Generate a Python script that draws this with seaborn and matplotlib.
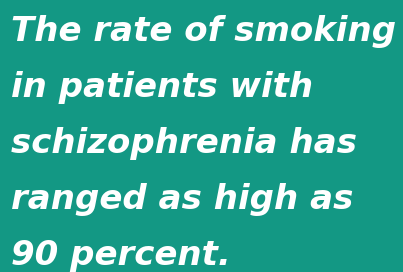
import matplotlib
matplotlib.use("Agg")
import matplotlib.pyplot as plt
import seaborn as sns

BG = "#139884"
TEXT = "#ffffff"

lines = [
    "The rate of smoking",
    "in patients with",
    "schizophrenia has",
    "ranged as high as",
    "90 percent.",
]

sns.set_theme(style="white")
plt.rcParams["font.family"] = ["DejaVu Sans"]

W, H = 403, 272
fig = plt.figure(figsize=(W / 100, H / 100), dpi=100, facecolor=BG)

# baselines in px from the top
top, step = 41, 56
for i, s in enumerate(lines):
    y = 1 - (top + i * step) / H
    fig.text(11 / W, y, s, color=TEXT, fontsize=24.5, fontweight="bold",
             fontstyle="italic", ha="left", va="baseline")

fig.savefig("out.png", dpi=100, facecolor=BG)
